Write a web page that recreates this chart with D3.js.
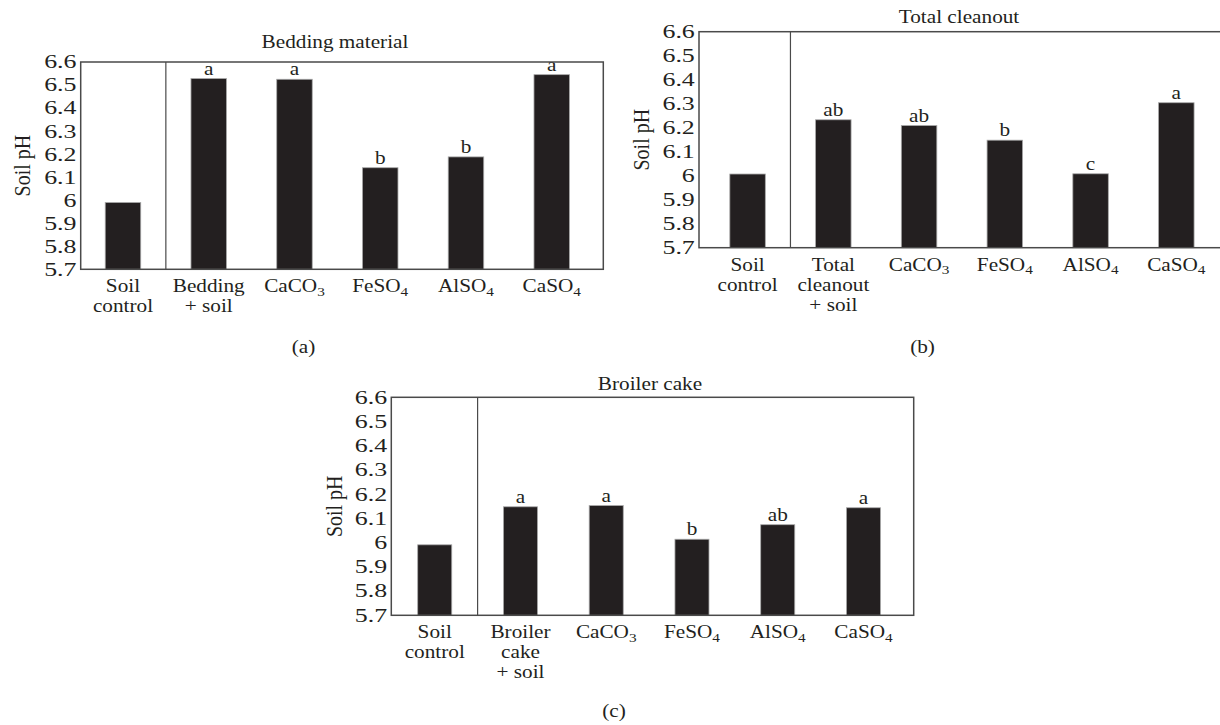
<!DOCTYPE html>
<html>
<head>
<meta charset="utf-8">
<script src="https://cdn.jsdelivr.net/npm/d3@7"></script>
<style>
  body { margin: 0; background: #fff; }
  svg { display: block; }
</style>
</head>
<body>
<svg id="chart" width="1220" height="725"></svg>
<script>
// Chart values
const catsBedding  = ["Soil\ncontrol", "Bedding\n+ soil", "CaCO_3", "FeSO_4", "AlSO_4", "CaSO_4"];
const catsCleanout = ["Soil\ncontrol", "Total\ncleanout\n+ soil", "CaCO_3", "FeSO_4", "AlSO_4", "CaSO_4"];
const catsBroiler  = ["Soil\ncontrol", "Broiler\ncake\n+ soil", "CaCO_3", "FeSO_4", "AlSO_4", "CaSO_4"];

const phBedding  = [5.99, 6.528, 6.525, 6.141, 6.188, 6.545];
const phCleanout = [6.007, 6.233, 6.209, 6.148, 6.008, 6.304];
const phBroiler  = [5.991, 6.148, 6.153, 6.014, 6.074, 6.144];

const lettersBedding  = ["", "a", "a", "b", "b", "a"];
const lettersCleanout = ["", "ab", "ab", "b", "c", "a"];
const lettersBroiler  = ["", "a", "a", "b", "ab", "a"];

const yTickValues = [5.7, 5.8, 5.9, 6.0, 6.1, 6.2, 6.3, 6.4, 6.5, 6.6];
const yTickLabels = ["5.7", "5.8", "5.9", "6", "6.1", "6.2", "6.3", "6.4", "6.5", "6.6"];
const yDomain = [5.7, 6.6];

const FONT = "'Liberation Serif', 'Times New Roman', serif";
const SX = 1.18;          // the figure's text is a little wide, stretch it
const SX_TICK = 1.4;      // tick numbers are wider still
const STEP = 85.75;       // band step shared by the three panels

// Layout only: where each panel sits on the page
const panels = [
  { title: "Bedding material", tag: "(a)", cats: catsBedding, values: phBedding, letters: lettersBedding,
    left: 80.7, bandStart: 80.1, right: 603.3, top: 62, bottom: 269.3, pad: 0.586,
    titleX: 335, titleY: 48, tagX: 303.5, tagY: 353, yLabelX: 21.5 },
  { title: "Total cleanout", tag: "(b)", cats: catsCleanout, values: phCleanout, letters: lettersCleanout,
    left: 699, bandStart: 704.7, right: 1224, top: 31.7, bottom: 247.7, pad: 0.586,
    titleX: 959, titleY: 23, tagX: 922.5, tagY: 353, yLabelX: 641 },
  { title: "Broiler cake", tag: "(c)", cats: catsBroiler, values: phBroiler, letters: lettersBroiler,
    left: 391.3, bandStart: 391.85, right: 913.7, top: 397.3, bottom: 615.3, pad: 0.603,
    titleX: 650, titleY: 389.5, tagX: 614, tagY: 717, yLabelX: 334 }
];

const svg = d3.select("#chart");

// Writes "CaCO_3" as CaCO with a subscript 3
function writeLine(sel, line) {
  const parts = line.split("_");
  sel.append("tspan").text(parts[0]);
  if (parts.length > 1) {
    sel.append("tspan")
      .attr("font-size", "72%")
      .attr("dy", "0.28em")
      .text(parts[1]);
  }
}

function drawPanel(p) {
  const g = svg.append("g");

  const x = d3.scaleBand()
    .domain(p.cats)
    .range([p.bandStart, p.bandStart + STEP * p.cats.length])
    .paddingInner(p.pad)
    .paddingOuter(p.pad / 2);

  const y = d3.scaleLinear().domain(yDomain).range([p.bottom, p.top]);

  // Y axis labels
  const yAxis = g.append("g")
    .attr("transform", `translate(${p.left},0)`)
    .call(d3.axisLeft(y)
      .tickValues(yTickValues)
      .tickFormat((d, i) => yTickLabels[i])
      .tickSize(0)
      .tickPadding(3));
  yAxis.select(".domain").remove();
  yAxis.selectAll("text")
    .attr("font-family", FONT)
    .attr("font-size", 18.5)
    .attr("fill", "#231f20")
    .attr("transform", `scale(${SX_TICK},1)`);

  // Category labels
  const xAxis = g.append("g")
    .attr("transform", `translate(0,${p.bottom})`)
    .call(d3.axisBottom(x).tickSize(0).tickPadding(0));
  xAxis.select(".domain").remove();
  xAxis.selectAll("text")
    .attr("font-family", FONT)
    .attr("font-size", 18)
    .attr("fill", "#231f20")
    .attr("y", 23)
    .attr("dy", null)
    .attr("transform", `scale(${SX},1)`)
    .each(function (d) {
      const t = d3.select(this).text(null);
      d.split("\n").forEach((line, i) => {
        const ts = t.append("tspan").attr("x", 0).attr("dy", i === 0 ? 0 : 20);
        writeLine(ts, line);
      });
    });

  // Bars
  g.selectAll("rect.bar")
    .data(p.values)
    .join("rect")
    .attr("class", "bar")
    .attr("x", (d, i) => x(p.cats[i]))
    .attr("y", d => y(d))
    .attr("width", x.bandwidth())
    .attr("height", d => p.bottom - y(d))
    .attr("fill", "#231f20")
    .attr("stroke", "#a8a8a8")
    .attr("stroke-width", 0.8);

  // Significance letters
  g.selectAll("text.letter")
    .data(p.values)
    .join("text")
    .attr("class", "letter")
    .attr("text-anchor", "middle")
    .attr("font-family", FONT)
    .attr("font-size", 18)
    .attr("fill", "#231f20")
    .attr("transform", (d, i) =>
      `translate(${x(p.cats[i]) + x.bandwidth() / 2},${y(d) - 4}) scale(${SX},1)`)
    .text((d, i) => p.letters[i]);

  // Plot frame and the divider after the control
  g.append("rect")
    .attr("x", p.left)
    .attr("y", p.top)
    .attr("width", p.right - p.left)
    .attr("height", p.bottom - p.top)
    .attr("fill", "none")
    .attr("stroke", "#4a4a4a")
    .attr("stroke-width", 1.5);

  const divX = (x(p.cats[0]) + x.bandwidth() + x(p.cats[1])) / 2;
  g.append("line")
    .attr("x1", divX).attr("x2", divX)
    .attr("y1", p.top).attr("y2", p.bottom)
    .attr("stroke", "#4a4a4a")
    .attr("stroke-width", 1.2);

  // Y axis title
  g.append("text")
    .attr("text-anchor", "middle")
    .attr("font-family", FONT)
    .attr("font-size", 20)
    .attr("fill", "#231f20")
    .attr("transform", `translate(${p.yLabelX},${(p.top + p.bottom) / 2}) scale(${SX},1) rotate(-90) translate(0,7)`)
    .text("Soil pH");

  // Panel title and tag
  g.append("text")
    .attr("text-anchor", "middle")
    .attr("font-family", FONT)
    .attr("font-size", 18)
    .attr("fill", "#231f20")
    .attr("transform", `translate(${p.titleX},${p.titleY}) scale(${SX},1)`)
    .text(p.title);

  g.append("text")
    .attr("text-anchor", "middle")
    .attr("font-family", FONT)
    .attr("font-size", 18)
    .attr("fill", "#231f20")
    .attr("transform", `translate(${p.tagX},${p.tagY}) scale(${SX},1)`)
    .text(p.tag);
}

panels.forEach(drawPanel);
</script>
</body>
</html>
